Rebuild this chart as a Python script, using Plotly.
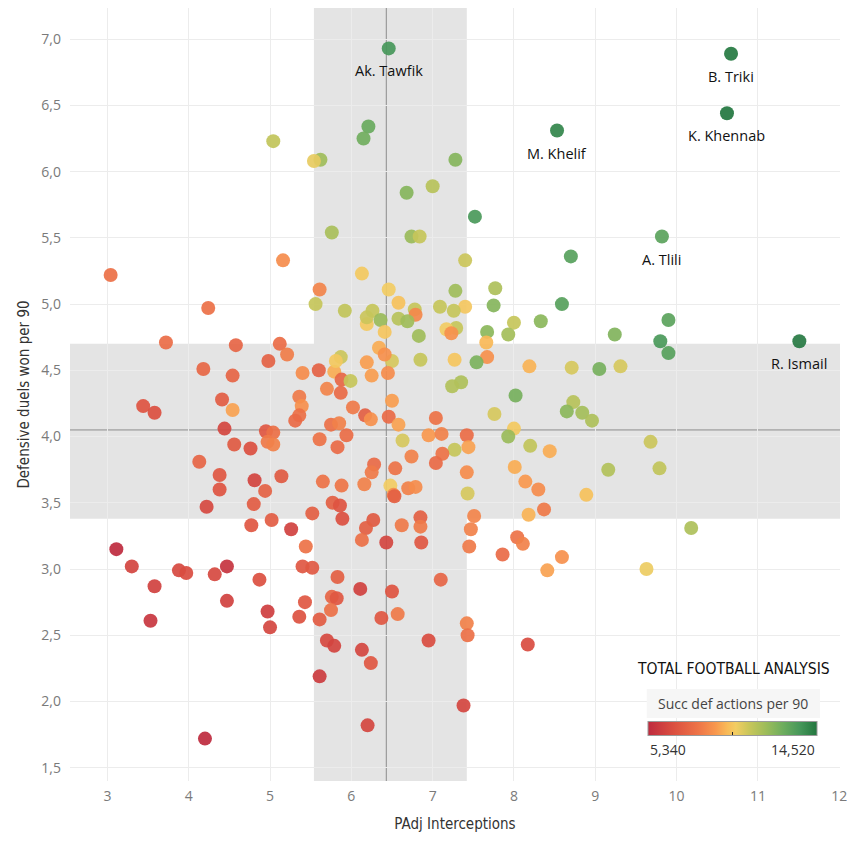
import plotly.graph_objects as go

# ---------------- data ----------------
label_names = ["Ak. Tawfik", "B. Triki", "K. Khennab", "M. Khelif", "A. Tlili", "R. Ismail"]
label_x = [6.46, 10.67, 10.62, 8.53, 9.82, 11.51]
label_y = [6.93, 6.89, 6.44, 6.31, 5.51, 4.72]
label_c = [13600, 14450, 14520, 14100, 13100, 14400]

px_interceptions = [
    6.21, 6.15, 5.04, 5.62, 5.54, 7.28, 7.00, 6.68, 7.52, 5.76, 6.74, 6.84, 5.16, 7.40, 8.70, 8.59,
    3.04, 4.24, 5.61, 5.56, 6.13, 5.92, 6.19, 3.72, 4.58, 5.12, 5.21, 4.98, 4.18, 4.54, 5.40, 5.60,
    5.79, 5.88, 5.99, 5.70, 5.87, 4.41, 5.36, 5.39, 3.44, 3.58, 4.54, 5.36, 5.31, 6.02, 6.17, 6.24,
    4.44, 4.95, 5.04, 4.97, 5.04, 5.75, 5.85, 5.94, 5.61, 5.83, 4.56, 4.76, 4.13, 4.38, 4.81, 5.14,
    4.38, 4.94, 5.65, 5.88, 6.16, 4.22, 4.80, 5.77, 5.86, 5.52, 5.89, 6.27, 4.77, 5.02, 5.26, 6.18,
    6.28, 6.25, 3.11, 3.30, 3.58, 3.53, 3.88, 3.97, 4.32, 4.47, 4.47, 4.20, 4.87, 4.97, 5.00, 5.44,
    5.40, 5.52, 5.43, 5.36, 5.61, 5.83, 5.76, 5.82, 5.75, 5.70, 5.79, 5.61, 6.11, 6.13, 6.24, 6.20,
    6.50, 6.37, 6.57, 6.43, 6.13, 6.62, 6.85, 6.85, 6.86, 7.10, 6.95, 7.38, 7.42, 7.43, 7.45, 7.47,
    7.51, 8.17, 8.41, 8.59, 9.63, 9.90, 9.80, 9.90, 9.24, 8.33, 8.00, 7.93, 7.67, 7.75, 7.66, 7.67,
    7.54, 7.27, 7.40, 7.26, 7.29, 8.19, 8.71, 9.05, 9.31, 7.35, 7.24, 8.02, 7.76, 8.73, 8.65, 8.84,
    8.96, 8.00, 7.93, 7.42, 7.44, 7.27, 8.20, 8.44, 9.68, 9.79, 9.16, 8.01, 7.42, 8.14, 8.30, 7.43,
    8.89, 8.37, 8.18, 10.18, 8.04, 8.11, 7.86, 6.46, 7.28, 7.77, 6.58, 6.78, 6.79, 7.09, 6.19, 6.26,
    6.36, 6.58, 6.69, 6.41, 6.83, 7.17, 7.23, 6.85, 6.50, 6.34, 6.41, 5.87, 5.81, 6.19, 6.45, 6.25,
    6.50, 6.46, 6.58, 7.04, 6.63, 6.95, 7.11, 7.12, 7.04, 6.74, 6.54, 6.48, 6.52, 6.53, 6.70, 6.79,
]
duels_won = [
    6.34, 6.25, 6.23, 6.09, 6.08, 6.09, 5.89, 5.84, 5.66, 5.54, 5.51, 5.51, 5.33, 5.33, 5.36, 5.00,
    5.22, 4.97, 5.11, 5.00, 5.23, 4.95, 4.85, 4.71, 4.69, 4.70, 4.62, 4.57, 4.51, 4.46, 4.48, 4.50,
    4.49, 4.43, 4.42, 4.36, 4.33, 4.28, 4.30, 4.23, 4.23, 4.18, 4.20, 4.16, 4.12, 4.22, 4.16, 4.13,
    4.06, 4.04, 4.03, 3.96, 3.94, 4.09, 4.10, 4.01, 3.98, 3.92, 3.94, 3.91, 3.81, 3.71, 3.67, 3.70,
    3.60, 3.59, 3.66, 3.63, 3.64, 3.47, 3.49, 3.50, 3.48, 3.42, 3.38, 3.37, 3.33, 3.37, 3.30, 3.31,
    3.79, 3.73, 3.15, 3.02, 2.87, 2.61, 2.99, 2.97, 2.96, 3.02, 2.76, 1.72, 2.92, 2.68, 2.56, 3.17,
    3.02, 3.01, 2.75, 2.64, 2.62, 2.94, 2.79, 2.78, 2.69, 2.46, 2.42, 2.19, 2.85, 2.39, 2.29, 1.82,
    2.83, 2.63, 2.66, 3.20, 3.22, 3.33, 3.39, 3.32, 3.20, 2.92, 2.46, 1.97, 2.59, 2.50, 3.17, 3.30,
    3.40, 2.43, 2.99, 3.09, 3.00, 4.88, 4.72, 4.63, 4.77, 4.87, 4.86, 4.77, 4.79, 4.99, 4.71, 4.60,
    4.56, 4.58, 4.98, 4.95, 4.82, 4.53, 4.52, 4.51, 4.53, 4.41, 4.38, 4.31, 4.17, 4.26, 4.19, 4.18,
    4.12, 4.06, 4.00, 4.01, 3.92, 3.90, 3.93, 3.89, 3.96, 3.76, 3.75, 3.77, 3.73, 3.66, 3.60, 3.57,
    3.56, 3.45, 3.41, 3.31, 3.24, 3.19, 3.11, 5.11, 5.10, 5.12, 5.01, 4.96, 4.92, 4.98, 4.90, 4.95,
    4.88, 4.89, 4.87, 4.79, 4.76, 4.81, 4.78, 4.58, 4.57, 4.67, 4.62, 4.60, 4.57, 4.56, 4.48, 4.46,
    4.27, 4.15, 4.09, 4.14, 3.97, 4.01, 4.02, 3.87, 3.80, 3.85, 3.76, 3.63, 3.56, 3.55, 3.61, 3.62,
]
succ_def_actions = [
    12800, 12600, 11000, 11700, 10300, 12200, 11200, 12200, 13500, 11500, 11800, 10900, 8700, 10800, 13200, 13200,
    7900, 7900, 8500, 10900, 10000, 11000, 10000, 7800, 7500, 7800, 8300, 7400, 7600, 7500, 8700, 7400,
    9400, 7600, 10900, 8500, 7700, 7200, 8200, 8800, 6900, 6700, 9200, 7900, 7700, 8200, 7300, 8800,
    6400, 7000, 7900, 8200, 8400, 7900, 8400, 7800, 8000, 7700, 7100, 6700, 7500, 7000, 6300, 7100,
    6900, 7400, 8000, 8100, 8400, 6500, 7200, 7300, 6900, 7300, 6700, 7100, 7000, 7200, 6200, 7300,
    7700, 8200, 5340, 6300, 6200, 5800, 6500, 6600, 6500, 5700, 6200, 5340, 6700, 6100, 6400, 8000,
    7000, 7050, 7000, 6800, 7200, 7300, 7500, 7000, 7900, 6500, 6300, 6000, 6200, 6400, 7000, 6400,
    6900, 7000, 8200, 6400, 7900, 8200, 7300, 8200, 7000, 7500, 6600, 6400, 8400, 7900, 8200, 8400,
    8500, 6600, 9200, 8800, 10200, 13100, 13500, 13200, 12300, 12100, 10900, 11600, 12100, 12200, 9600, 8800,
    12400, 9900, 9950, 10900, 10900, 9500, 10600, 12500, 10600, 11400, 11300, 12500, 10600, 11200, 12100, 11600,
    11400, 10000, 11800, 7800, 9200, 10900, 11000, 9400, 10800, 11000, 11300, 9400, 8700, 9000, 8700, 10600,
    9800, 8200, 9500, 11400, 8000, 8400, 7700, 10100, 11700, 11400, 9800, 10900, 8600, 10900, 10800, 10900,
    11800, 11200, 11700, 9900, 11700, 10100, 8800, 10900, 10600, 9400, 8800, 10800, 10000, 9100, 8700, 9100,
    9100, 7700, 9200, 8000, 10600, 9000, 8400, 8000, 7700, 8400, 8000, 10100, 8700, 7300, 8400, 8700,
]

x_ticks = [3, 4, 5, 6, 7, 8, 9, 10, 11, 12]
y_ticks = [1.5, 2.0, 2.5, 3.0, 3.5, 4.0, 4.5, 5.0, 5.5, 6.0, 6.5, 7.0]
y_tick_text = ["1,5", "2,0", "2,5", "3,0", "3,5", "4,0", "4,5", "5,0", "5,5", "6,0", "6,5", "7,0"]

# reference lines and shaded bands
x_ref_line = 6.43
y_ref_line = 4.05
x_band = [5.54, 7.42]
y_band = [3.38, 4.70]
c_min, c_max = 5340, 14520
c_min_text, c_max_text = "5,340", "14,520"

# ---------------- figure ----------------
colorscale = [
    [0.0, "#be2a3e"], [0.15, "#db4f40"], [0.30, "#ee7548"], [0.40, "#f8984e"],
    [0.47, "#f8bb58"], [0.52, "#f2cd63"], [0.60, "#c8c65a"], [0.70, "#9cbc5a"],
    [0.80, "#6dad5e"], [0.90, "#46975a"], [1.0, "#22763f"],
]

all_x = px_interceptions + label_x
all_y = duels_won + label_y
all_c = succ_def_actions + label_c

fig = go.Figure()
fig.add_trace(go.Scatter(
    x=all_x, y=all_y, mode="markers",
    marker=dict(
        size=14, color=all_c, colorscale=colorscale, cmin=c_min, cmax=c_max,
        opacity=0.92, line=dict(width=0),
        colorbar=dict(
            orientation="h", x=0.860, xanchor="center", y=0.0647, yanchor="middle",
            lenmode="pixels", len=169, thicknessmode="pixels", thickness=14,
            xpad=0, ypad=0,
            outlinecolor="#9a9a9a", outlinewidth=1,
            tickvals=[(c_min + c_max) / 2], ticks="inside", ticklen=4, tickcolor="#222",
            showticklabels=False,
        ),
    ),
    hoverinfo="skip", showlegend=False,
))

label_font = dict(family="Open Sans, DejaVu Sans", size=14.5, color="#111")
for nm, lx, ly in zip(label_names, label_x, label_y):
    fig.add_annotation(x=lx, y=ly, text=nm, showarrow=False, xanchor="center", yanchor="top",
                       yshift=-11, font=label_font)

band = "#e4e4e4"
fig.add_shape(type="rect", xref="x", yref="paper", x0=x_band[0], x1=x_band[1], y0=0, y1=1,
              fillcolor=band, line=dict(width=0), layer="below")
fig.add_shape(type="rect", xref="paper", yref="y", x0=0, x1=1, y0=y_band[0], y1=y_band[1],
              fillcolor=band, line=dict(width=0), layer="below")
fig.add_shape(type="line", xref="x", yref="paper", x0=x_ref_line, x1=x_ref_line, y0=0, y1=1,
              line=dict(color="#8c8c8c", width=1), layer="between")
fig.add_shape(type="line", xref="paper", yref="y", x0=0, x1=1, y0=y_ref_line, y1=y_ref_line,
              line=dict(color="#8c8c8c", width=1), layer="between")

# legend title box
fig.add_shape(type="rect", xref="paper", yref="paper", x0=0.749, x1=0.974, y0=0.0815, y1=0.119,
              fillcolor="#f6f6f6", line=dict(width=0), layer="above")
fig.add_annotation(xref="paper", yref="paper", x=0.8615, y=0.1003, xanchor="center", yanchor="middle",
                   text="Succ def actions per 90", showarrow=False,
                   font=dict(family="Open Sans, DejaVu Sans", size=14, color="#444"))
fig.add_annotation(xref="paper", yref="paper", x=0.7505, y=0.041, xanchor="left", yanchor="middle",
                   text=c_min_text, showarrow=False,
                   font=dict(family="Open Sans, DejaVu Sans", size=14, color="#333"))
fig.add_annotation(xref="paper", yref="paper", x=0.970, y=0.041, xanchor="right", yanchor="middle",
                   text=c_max_text, showarrow=False,
                   font=dict(family="Open Sans, DejaVu Sans", size=14, color="#333"))
# logo text
fig.add_annotation(xref="paper", yref="paper", x=0.8615, y=0.1455, xanchor="center", yanchor="middle",
                   text="TOTAL FOOTBALL ANALYSIS", showarrow=False,
                   font=dict(family="Liberation Sans Narrow, DejaVu Sans Condensed, Arial Narrow", size=15.5,
                             color="#111"))

tick_font = dict(family="Open Sans, DejaVu Sans", size=14, color="#7a7a7a")
title_font = dict(family="Liberation Sans Narrow, DejaVu Sans Condensed, Arial Narrow", size=15, color="#333")

fig.update_xaxes(range=[2.54, 12.01], tickvals=x_ticks, showgrid=True, gridcolor="#ececec", gridwidth=1,
                 zeroline=False, showline=False, ticks="", tickfont=tick_font, ticklabelstandoff=5,
                 ticklabeloverflow="allow",
                 title=dict(text="PAdj Interceptions", font=title_font, standoff=14))
fig.update_yaxes(range=[1.40, 7.235], tickvals=y_ticks, ticktext=y_tick_text, showgrid=True,
                 gridcolor="#ececec", gridwidth=1, zeroline=False, showline=False, ticks="",
                 tickfont=tick_font, ticklabelstandoff=8,
                 title=dict(text="Defensive duels won per 90", font=title_font, standoff=8))

fig.update_layout(
    width=847, height=844,
    margin=dict(l=70, r=7, t=8, b=63, autoexpand=False),
    plot_bgcolor="rgba(0,0,0,0)", paper_bgcolor="white",
    font=dict(family="Open Sans, DejaVu Sans"),
)

fig.write_html("out.html", config={"displayModeBar": False},
               post_script="document.body.style.margin='0px';")
